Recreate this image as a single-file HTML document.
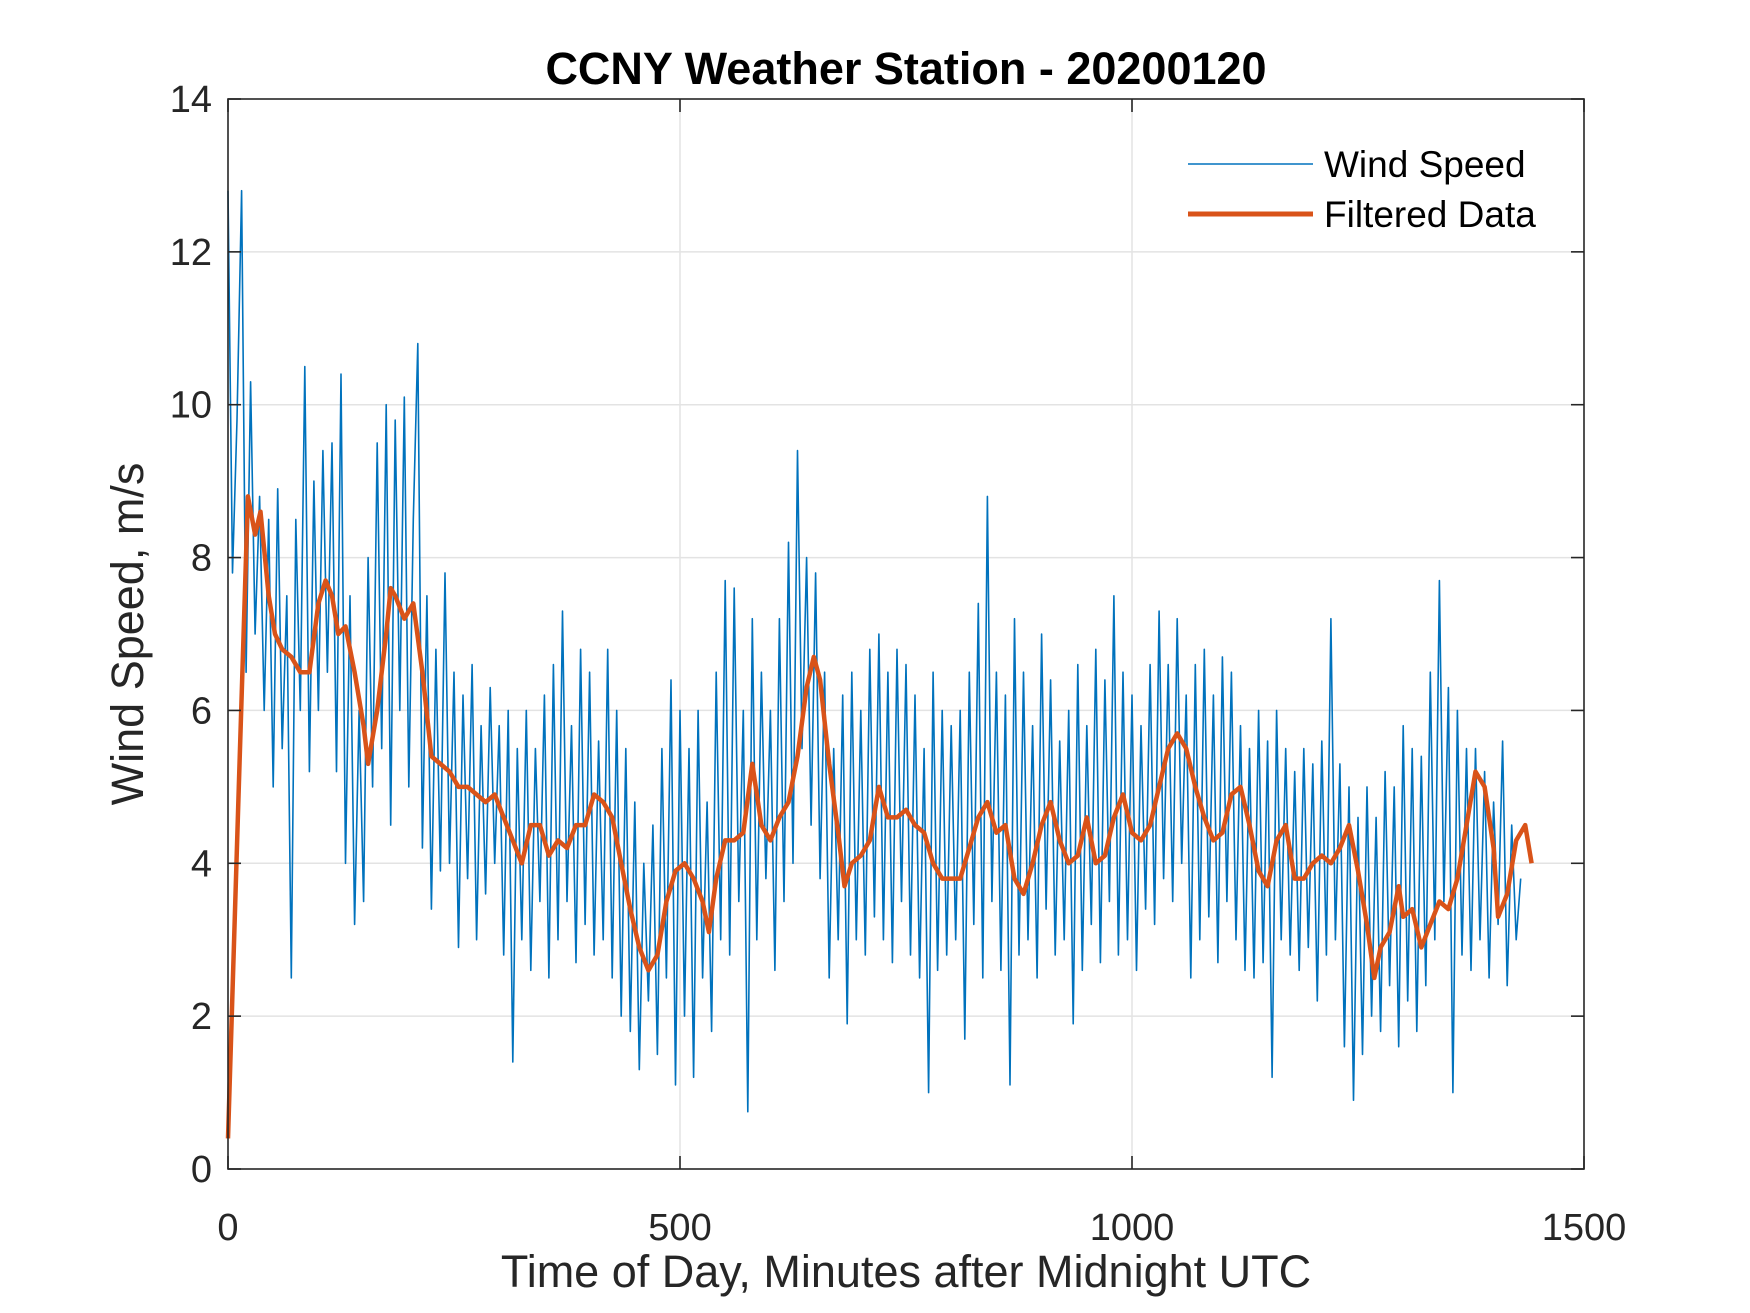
<!DOCTYPE html>
<html><head><meta charset="utf-8"><style>
html,body{margin:0;padding:0;background:#fff;}
svg{display:block;font-family:"Liberation Sans",Arial,sans-serif;}
</style></head><body>
<svg id="chart" width="1750" height="1313" xmlns="http://www.w3.org/2000/svg">
<rect width="1750" height="1313" fill="#fff"/>
<g id="grid"></g>
<g id="series"></g>
<rect x="228" y="99" width="1356" height="1070" fill="none" stroke="#262626" stroke-width="1.6"/>
<g id="ticks"></g>
<text x="906" y="84" text-anchor="middle" font-size="45" font-weight="bold" fill="#000">CCNY Weather Station - 20200120</text>
<text x="906" y="1287" text-anchor="middle" font-size="45" fill="#262626">Time of Day, Minutes after Midnight UTC</text>
<text transform="translate(143,634) rotate(-90)" text-anchor="middle" font-size="45" fill="#262626">Wind Speed, m/s</text>
<g>
<line x1="1188" y1="164" x2="1313" y2="164" stroke="#0072BD" stroke-width="1.5"/>
<text x="1324" y="177" font-size="37" fill="#000">Wind Speed</text>
<line x1="1188" y1="214" x2="1313" y2="214" stroke="#D95319" stroke-width="5"/>
<text x="1324" y="227" font-size="37" fill="#000">Filtered Data</text>
</g>
</svg>
<script>
const xTicks=[0,500,1000,1500];
const yTicks=[0,2,4,6,8,10,12,14];
const windStep=5;
const windSpeed=[12.8,7.8,9.8,12.8,6.5,10.3,7.0,8.8,6.0,8.5,5.0,8.9,
5.5,7.5,2.5,8.5,6.0,10.5,5.2,9.0,6.0,9.4,6.5,9.5,
5.2,10.4,4.0,7.5,3.2,6.0,3.5,8.0,5.0,9.5,5.5,10.0,
4.5,9.8,6.0,10.1,5.0,8.5,10.8,4.2,7.5,3.4,6.8,3.9,
7.8,4.0,6.5,2.9,6.2,3.8,6.6,3.0,5.8,3.6,6.3,4.0,
5.8,2.8,6.0,1.4,5.5,3.0,6.0,2.6,5.5,3.5,6.2,2.5,
6.6,3.0,7.3,3.5,5.8,2.7,6.8,3.2,6.5,2.8,5.6,3.0,
6.8,2.5,6.0,2.0,5.5,1.8,4.8,1.3,4.0,2.2,4.5,1.5,
5.5,2.5,6.4,1.1,6.0,2.0,5.5,1.2,6.0,2.5,4.8,1.8,
6.5,3.0,7.7,2.8,7.6,3.5,6.0,0.75,7.2,3.0,6.5,3.8,
6.0,2.6,7.2,3.5,8.2,4.0,9.4,5.5,8.0,4.5,7.8,3.8,
6.5,2.5,5.5,3.0,6.2,1.9,6.5,3.0,6.0,2.8,6.8,3.3,
7.0,3.0,6.5,2.7,6.8,3.5,6.6,2.8,6.2,2.5,5.5,1.0,
6.5,2.6,6.0,2.8,5.8,3.0,6.0,1.7,6.5,3.2,7.4,2.5,
8.8,3.5,6.5,2.6,6.2,1.1,7.2,2.8,6.5,3.0,5.8,2.5,
7.0,3.4,6.4,2.8,5.6,3.0,6.0,1.9,6.6,2.6,5.8,3.2,
6.8,2.7,6.4,3.5,7.5,2.8,6.5,3.0,6.2,2.6,5.8,3.4,
6.6,3.2,7.3,3.8,6.6,3.5,7.2,4.0,6.2,2.5,6.6,3.0,
6.8,3.3,6.2,2.7,6.7,3.5,6.5,3.0,5.8,2.6,5.5,2.5,
6.0,2.7,5.6,1.2,6.0,3.0,5.5,2.8,5.2,2.6,5.5,2.9,
5.3,2.2,5.6,2.8,7.2,3.0,5.3,1.6,5.0,0.9,4.6,1.5,
5.0,2.0,4.6,1.8,5.2,2.4,5.0,1.6,5.8,2.2,5.5,1.8,
5.4,2.4,6.5,3.0,7.7,3.5,6.3,1.0,6.0,2.8,5.5,2.6,
5.5,3.0,5.2,2.5,4.8,3.2,5.6,2.4,4.5,3.0,3.8];
const filtT=[0,12,22,30,36,45,52,60,70,80,90,100,108,115,122,130,140,150,155,165,175,180,185,195,205,215,225,235,245,255,265,275,285,295,305,315,325,335,345,355,365,375,385,395,405,415,425,435,445,455,465,475,485,495,505,515,525,532,540,550,560,570,580,590,600,610,620,630,640,648,655,665,675,682,690,700,710,720,730,740,750,760,770,780,790,800,810,820,830,840,850,860,870,880,890,900,910,920,930,940,950,960,970,980,990,1000,1010,1020,1030,1040,1050,1060,1070,1080,1090,1100,1110,1120,1130,1140,1150,1160,1170,1180,1190,1200,1210,1220,1230,1240,1250,1260,1268,1275,1285,1295,1300,1310,1320,1330,1340,1350,1360,1370,1380,1390,1400,1405,1415,1425,1435,1442];
const filtV=[0.4,5,8.8,8.3,8.6,7.5,7,6.8,6.7,6.5,6.5,7.4,7.7,7.5,7.0,7.1,6.5,5.8,5.3,6.0,7.0,7.6,7.5,7.2,7.4,6.5,5.4,5.3,5.2,5.0,5.0,4.9,4.8,4.9,4.6,4.3,4.0,4.5,4.5,4.1,4.3,4.2,4.5,4.5,4.9,4.8,4.6,4.0,3.4,2.9,2.6,2.8,3.5,3.9,4.0,3.8,3.5,3.1,3.8,4.3,4.3,4.4,5.3,4.5,4.3,4.6,4.8,5.4,6.3,6.7,6.4,5.3,4.4,3.7,4.0,4.1,4.3,5.0,4.6,4.6,4.7,4.5,4.4,4.0,3.8,3.8,3.8,4.2,4.6,4.8,4.4,4.5,3.8,3.6,4.0,4.5,4.8,4.3,4.0,4.1,4.6,4.0,4.1,4.6,4.9,4.4,4.3,4.5,5.0,5.5,5.7,5.5,5.0,4.6,4.3,4.4,4.9,5.0,4.5,3.9,3.7,4.3,4.5,3.8,3.8,4.0,4.1,4.0,4.2,4.5,3.9,3.2,2.5,2.9,3.1,3.7,3.3,3.4,2.9,3.2,3.5,3.4,3.8,4.5,5.2,5.0,4.2,3.3,3.6,4.3,4.5,4.0];
const L=228,R=1584,T=99,B=1169;
const sx=v=>L+(v-0)/1500*(R-L);
const sy=v=>B-(v-0)/14*(B-T);
const NS='http://www.w3.org/2000/svg';
function mk(tag,attrs,parent){const e=document.createElementNS(NS,tag);for(const k in attrs)e.setAttribute(k,attrs[k]);parent.appendChild(e);return e;}
const grid=document.getElementById('grid'),ticks=document.getElementById('ticks'),series=document.getElementById('series');
xTicks.forEach(t=>{const x=sx(t);
 if(t>0&&t<1500){const g=mk('line',{x1:x,y1:T,x2:x,y2:B,stroke:'#e3e3e3','stroke-width':1.5},grid);
 
 }
 const a=mk('line',{x1:x,y1:B,x2:x,y2:B-13,stroke:'#262626','stroke-width':1.6},ticks);
 
 
 const b=mk('line',{x1:x,y1:T,x2:x,y2:T+13,stroke:'#262626','stroke-width':1.6},ticks);
 
 
 const tx=mk('text',{x:x,y:1240,'text-anchor':'middle','font-size':38,fill:'#262626'},ticks);tx.textContent=t;
 
 
});
yTicks.forEach(t=>{const y=sy(t);
 if(t>0&&t<14){const g=mk('line',{x1:L,y1:y,x2:R,y2:y,stroke:'#e3e3e3','stroke-width':1.5},grid);
 
 }
 const a=mk('line',{x1:L,y1:y,x2:L+13,y2:y,stroke:'#262626','stroke-width':1.6},ticks);
 
 
 const b=mk('line',{x1:R,y1:y,x2:R-13,y2:y,stroke:'#262626','stroke-width':1.6},ticks);
 
 
 const tx=mk('text',{x:212,y:y+13,'text-anchor':'end','font-size':38,fill:'#262626'},ticks);tx.textContent=t;
 
 
});
const wp=windSpeed.map((v,i)=>sx(i*windStep).toFixed(1)+','+sy(v).toFixed(1)).join(' ');
const w=mk('polyline',{points:wp,fill:'none',stroke:'#0072BD','stroke-width':1.6,'stroke-linejoin':'round'},series);


const fp=filtV.map((v,i)=>sx(filtT[i]).toFixed(1)+','+sy(v).toFixed(1)).join(' ');
const f=mk('polyline',{points:fp,fill:'none',stroke:'#D95319','stroke-width':4.5,'stroke-linejoin':'round'},series);


</script>
</body></html>
